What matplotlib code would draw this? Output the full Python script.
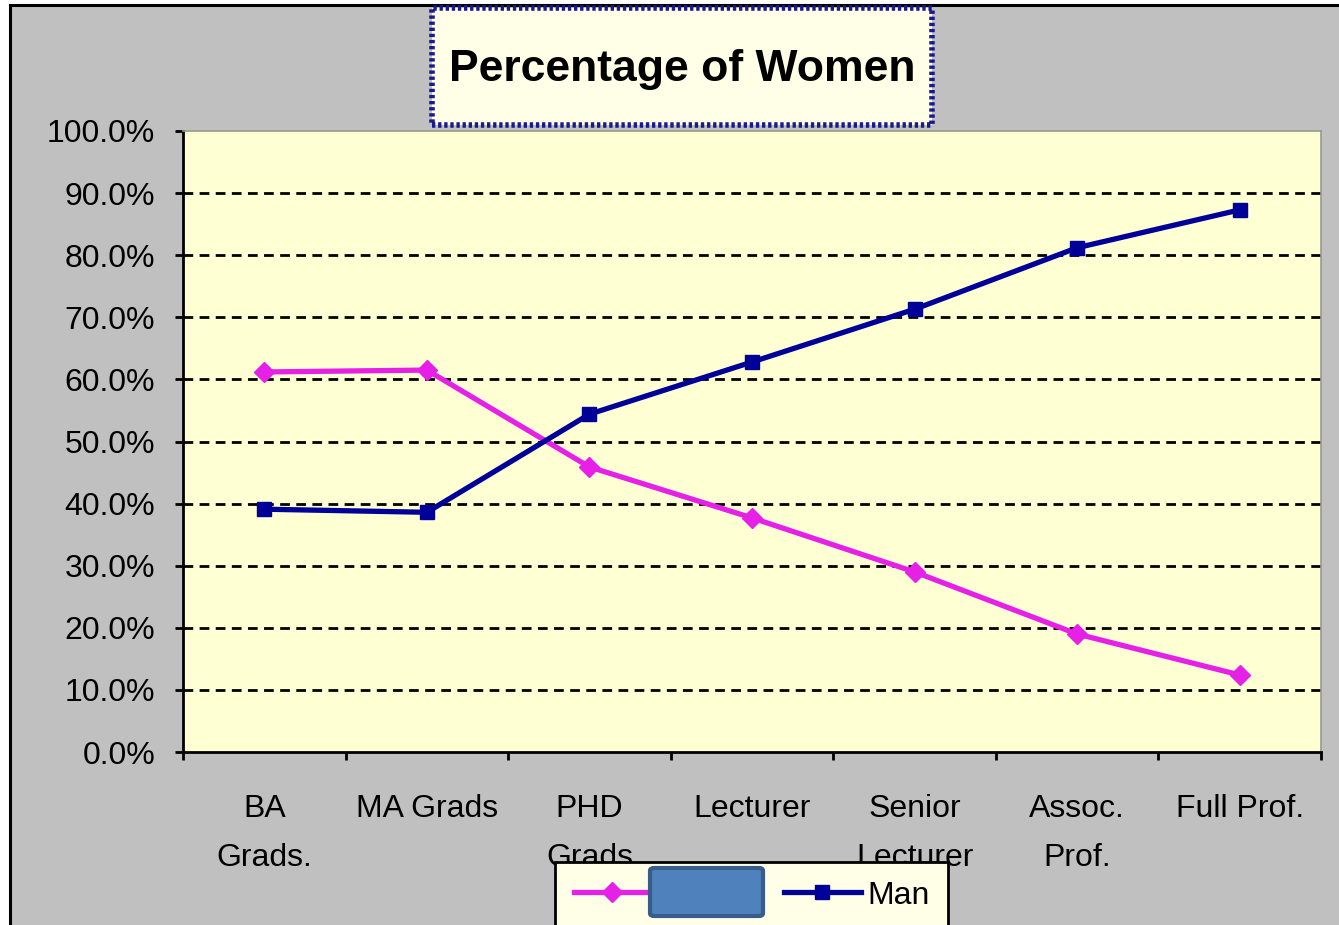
import matplotlib
matplotlib.use("Agg")
import matplotlib.pyplot as plt
from matplotlib.patches import Rectangle, FancyBboxPatch
from matplotlib.ticker import FuncFormatter, FixedLocator

categories = ["BA\nGrads.", "MA Grads", "PHD\nGrads", "Lecturer", "Senior\nLecturer", "Assoc.\nProf.", "Full Prof."]
women = [0.612, 0.615, 0.459, 0.377, 0.290, 0.190, 0.124]
man = [0.391, 0.386, 0.544, 0.628, 0.713, 0.812, 0.873]
title = "Percentage of Women"
series_labels = ["Women", "Man"]

W, H = 1339, 925
plt.rcParams['font.family'] = ['Liberation Sans', 'DejaVu Sans']

fig = plt.figure(figsize=(W / 100, H / 100), dpi=100, facecolor="white")

def fx(x):
    return x / W

def fy(y):
    return 1 - y / H

# chart area background
bg = Rectangle((fx(10), fy(940)), fx(1350) - fx(10), fy(5) - fy(940),
               transform=fig.transFigure, facecolor="#C0C0C0",
               edgecolor="black", linewidth=2.2, zorder=0)
fig.add_artist(bg)

ax = fig.add_axes([fx(183), fy(752), fx(1321) - fx(183), fy(131) - fy(752)])
ax.set_facecolor("#FFFFD4")
ax.set_zorder(1)

x = list(range(len(categories)))
ax.plot(x, women, color="#E620E6", linewidth=3.8, marker="D", markersize=10,
        label=series_labels[0], zorder=4)
ax.plot(x, man, color="#000099", linewidth=3.8, marker="s", markersize=9.5,
        label=series_labels[1], zorder=5)

ax.set_xlim(-0.5, len(categories) - 0.5)
ax.set_ylim(0, 1.0)

ax.set_yticks([i / 10 for i in range(11)])
ax.yaxis.set_major_formatter(FuncFormatter(lambda v, p: f"{v * 100:.1f}%"))
for gy in [i / 10 for i in range(1, 10)]:
    ax.axhline(gy, color="black", linewidth=2.0, linestyle=(0, (3.5, 2.3)), zorder=2)

ax.set_xticks(x)
ax.set_xticklabels(categories, linespacing=1.85)
ax.xaxis.set_minor_locator(FixedLocator([i - 0.5 for i in range(len(categories) + 1)]))
ax.tick_params(axis="x", which="major", length=0, pad=30, labelsize=23)
ax.tick_params(axis="x", which="minor", length=6, width=2, direction="out", color="black")
ax.tick_params(axis="y", which="major", length=6, width=2, direction="out",
               pad=14, labelsize=23, color="black")

for s in ["left", "bottom"]:
    ax.spines[s].set_color("black")
    ax.spines[s].set_linewidth(2)
for s in ["top", "right"]:
    ax.spines[s].set_color("#9A9A8A")
    ax.spines[s].set_linewidth(1.2)

# title box
tb = Rectangle((fx(432), fy(125)), fx(932) - fx(432), fy(8) - fy(125),
               transform=fig.transFigure, facecolor="#FFFFE8",
               edgecolor="#1A1A90", linewidth=4, linestyle=(0, (0.6, 0.5)), zorder=3)
fig.add_artist(tb)
fig.text(fx(682), fy(69), title, ha="center", va="center", fontsize=32,
         fontweight="bold", color="black", zorder=4)

# legend
leg = fig.legend(loc="upper left", bbox_to_anchor=(fx(555), fy(862)), ncol=2,
                 fontsize=23, frameon=True, fancybox=False, borderaxespad=0,
                 borderpad=0.58, handlelength=2.4, handletextpad=0.2,
                 columnspacing=0.55, markerscale=1.0)
leg.get_frame().set_facecolor("#FFFFE8")
leg.get_frame().set_edgecolor("black")
leg.get_frame().set_linewidth(2)
leg.get_frame().set_alpha(1)
leg.set_zorder(6)

# blue rectangle covering part of the legend
cover = FancyBboxPatch((fx(650), fy(916)), fx(763) - fx(650), fy(868) - fy(916),
                       boxstyle="round,pad=0.0,rounding_size=0.003",
                       transform=fig.transFigure, facecolor="#4F81BD",
                       edgecolor="#385D8A", linewidth=3, zorder=10)
fig.add_artist(cover)

fig.savefig("out.png", dpi=100, facecolor="white")
